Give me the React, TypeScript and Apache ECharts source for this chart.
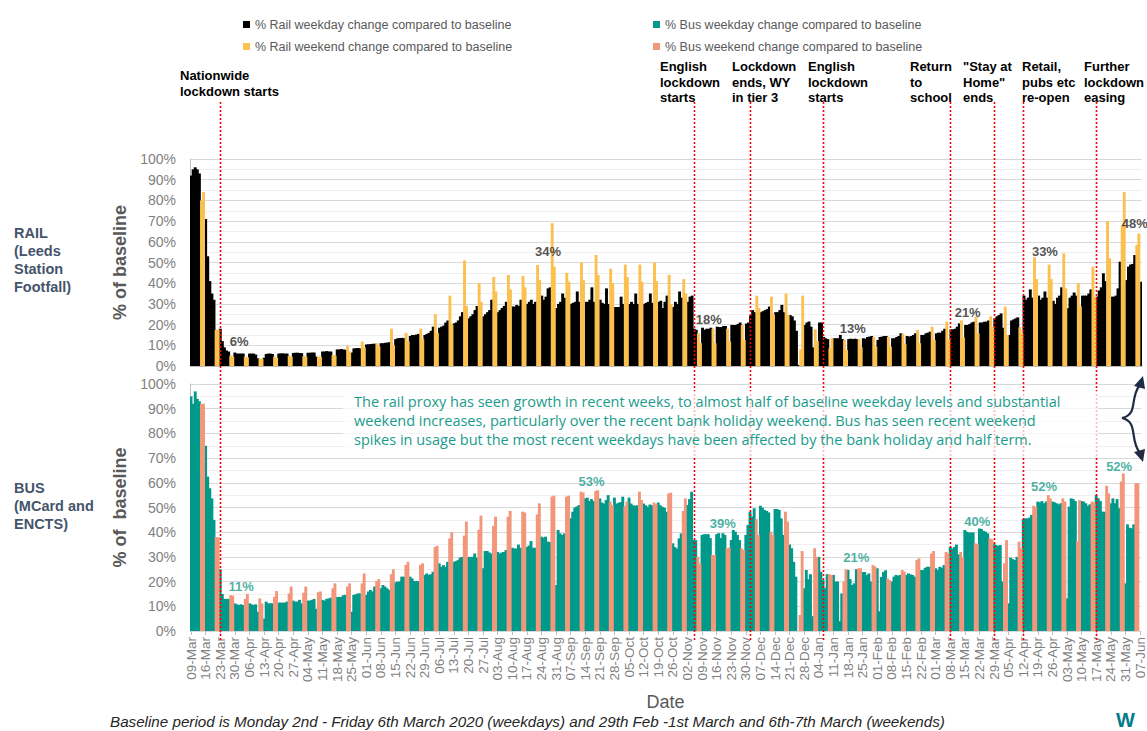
import React, { useEffect, useRef } from 'react';
import * as echarts from 'echarts';

// Monday tick labels (09-Mar-2020 .. 07-Jun-2021)
const weekLabels = ['09-Mar','16-Mar','23-Mar','30-Mar','06-Apr','13-Apr','20-Apr','27-Apr','04-May','11-May','18-May','25-May','01-Jun','08-Jun','15-Jun','22-Jun','29-Jun','06-Jul','13-Jul','20-Jul','27-Jul','03-Aug','10-Aug','17-Aug','24-Aug','31-Aug','07-Sep','14-Sep','21-Sep','28-Sep','05-Oct','12-Oct','19-Oct','26-Oct','02-Nov','09-Nov','16-Nov','23-Nov','30-Nov','07-Dec','14-Dec','21-Dec','28-Dec','04-Jan','11-Jan','18-Jan','25-Jan','01-Feb','08-Feb','15-Feb','22-Feb','01-Mar','08-Mar','15-Mar','22-Mar','29-Mar','05-Apr','12-Apr','19-Apr','26-Apr','03-May','10-May','17-May','24-May','31-May','07-Jun'];
const totalDays = 456;

// Rail: weekday values (Mon..Fri) per week, weekend values (Sat, Sun) per week
const railWeekday = [
  [92,95,96,95,93],[71,53,41,35,32],[18,12,9,7.5,7],[6.5,6,6,6,6],[6,6,6,5.5,3.7],
  [4,5.8,6,6,5.8],[6,6.1,6.1,6,6],[6.3,6.4,6.4,6.3,6.2],[6.4,6.4,6.5,6.5,4.5],[7,7,7.2,7,7],
  [8,8,8.2,8,7.8],[6.5,8.5,8.6,8.7,8.5],[10.4,10.5,10.6,10.7,10.8],[11,11,11.2,11.3,11.5],[13,13.4,13.5,13.6,13.5],
  [14.5,15,15,15.2,15.5],[15,15.5,16,17,19],[18.5,19,19.5,21,22],[20.6,21,22,24,26],[23,24,25,27,29],
  [24,25,26,27,32],[26,27,28,29,31],[28.7,28.7,29.5,29,32],[30,31,32,30,31],[34,32,33.5,37.5,38],
  [28,30,31,35,33],[30,30.5,31,36,31],[31,31,32,38,31],[32,30.5,30,37.5,30],[28.5,28.5,28.5,33.5,30],
  [30,31,30,35,30],[30,30.5,31,35,30.5],[31,31.5,28,31,34],[28.5,31,30,36,33],[31,33.5,34,18,17.5],
  [18.5,17.5,18,18,18.5],[19,18.8,18.8,19.3,19.3],[19.8,19.8,19.8,20.3,21],[20.5,21,24.5,27,26],[26,26.5,27,27.5,28.7],
  [26,26,27,29.5,26],[24.6,24,22,17,0.5],[19.8,21,21.5,19,9],[21,21,14,13.4,13],[13.4,13.4,13.4,15,13],
  [13,13.2,13,13.2,13],[13.4,13.2,14,14.2,14.5],[12.6,14,14.2,14.5,14.5],[13.4,13.4,14,14.5,15.8],[14.5,14.2,14.5,15,15.8],
  [15,15,15.8,16.1,16.6],[15.8,16.1,16.1,17,18],[17.7,17.7,18,19,20.6],[19.8,19.8,20.3,21,21.4],[21,21,21.4,21.4,22],
  [23,24,24.6,25.4,18.5],[15,22,22.5,23,23.5],[34,32,33,37,33],[34,32,33,36,33],[31.5,30,33,34,38],
  [27.9,33,34,35.5,34],[34,34,34,35,37],[33.5,36.5,38,44.8,41],[33.5,33.5,34,37.5,50.4],[41.5,48,49,49.3,53.6],
  [40.7]
];
const railWeekend = [
  [80,84],[17.4,17.6],[5,4.5],[4.5,4.2],[3.5,3.5],[4.5,4],[4.8,4.5],[4.8,4.6],[4.5,4.5],[5.3,5],
  [9.7,7],[11.8,9],[11,9.5],[18,10],[16,12],[18,13],[25,16],[34,20],[51,29],[40,31],
  [43,36],[44,37],[43.5,38],[48.8,41.5],[69,48],[45,40.7],[50,41.5],[53.6,44],[47,40],[49,43],
  [49,40.7],[50,41],[44,30],[42,35],[15.8,11],[18,11],[18,11.8],[19.8,12.6],[34,28],[33.5,25],
  [35,24.6],[8,34],[17.7,12],[8.5,13.4],[12.6,7.7],[13,9],[14,9.3],[14,9.3],[15.5,10.6],[17.4,11],
  [19,12.6],[21.4,12.9],[22,13.8],[23.8,15.8],[24,19],[28.7,15],[18.7,16],[52.5,42],[49,42],[54.4,37.5],
  [40,28.7],[48,33.5],[70,52],[68,84],[58.5,64]
];

// Bus
const busWeekday = [
  [95,92,97,94,93],[75,62.5,57.8,53.7,45],[25,15,13,13,13],[11.2,10.8,10.5,10.8,10.5],[11.2,10.8,10.5,10.8,7.8],
  [5,11.9,11.2,11.2,11.2],[11.5,11.5,11.5,11.5,11.9],[12.3,11.9,11.9,12.6,11.2],[12.3,12.3,12.6,13,9],[12.6,12.3,13,13.2,13.5],
  [13.8,13.8,13.8,14.5,14.6],[7.8,14.6,14.9,15.2,15.2],[14.6,16,16.6,16,18],[17.3,18.6,18,17.3,16.6],[19.7,20,20,22,22],
  [22,21.3,20.2,20.2,20.2],[22.7,23.3,22.7,23,24],[27.4,26,26.7,26,28],[28,28.3,28.7,29.7,30],[30,30,30,31.4,29.7],
  [25.4,32.4,32.4,31.8,31.4],[32,31.4,31.8,32,32.8],[33.7,33.4,33.4,35,33.7],[34,34.6,36.4,33.7,33.7],[38.2,37.8,38.2,36.2,36],
  [18.6,40.9,39.5,38.9,39.5],[45.6,48.3,50,50.4,51],[53.7,54,52.6,53.4,52.6],[53.7,52,51.6,53,55],[54,51.6,51.9,52.2,54.4],
  [54,51.6,50.9,50.7,50.9],[51.6,50.9,50.3,51.2,50.9],[52,50.9,50.3,49.9,48.3],[35.5,34,33.4,37.5,39.5],[51,53.4,56.4,36.8,36.8],
  [38.9,39.2,39.2,39.2,37.6],[39.2,39.6,37.6,39.6,38.9],[36.8,40.9,40.2,38.9,36.8],[38.9,42.9,48.3,46.3,49.7],[50.7,49.9,49,48.6,48],
  [49.4,49.4,49,45.6,38.9],[35,33.5,28,22,0],[17.3,24.7,21,23,6],[30,24,20.6,17.3,23],[22.7,20,20,4,15.2],
  [24.7,21,18.6,19.3,25],[23.9,23.9,22.7,23.3,20],[25.4,8,21.9,23.9,24.6],[20,22,22.7,22.4,22.7],[22.7,23.3,22.9,22.7,22],
  [24.7,24.7,25.6,26,26],[25.4,24.7,26,25.6,26.7],[34,33.4,34,35,31],[40.9,40.2,39.9,39.9,39.9],[41.5,41.3,40.5,40.2,39.5],
  [35.5,34.8,34.5,34.8,20],[11.2,29.7,29.1,28.7,30],[45.3,45.6,45.6,45.9,47],[52.4,52.1,52.6,51.7,52.4],[52.4,52.1,51.7,51.3,51.7],
  [13.2,50.3,53.7,53.4,52.6],[52.6,52.4,51.7,50.7,51.3],[55,53.7,52.6,48.3,48.3],[51.7,53.7,51.7,53.4,49.7],[19.3,43.2,41.8,41.6,43.2]
];
const busWeekend = [
  [92,92],[38,38],[14.5,14.3],[13,15],[13.2,11.2],[13.9,16.2],[15.2,18],[15.5,18],[15.7,16],[17.3,19.3],
  [18,19.3],[19.3,23.3],[20.2,21],[23,25],[26.7,28],[26.7,27.4],[34,34.5],[37.5,40],[38.6,44.3],[41,46.7],
  [42.6,46.3],[46.3,48.6],[48.3,48],[47.2,51.7],[54.4,54.8],[54.4,54.8],[56.4,56.1],[56.7,57],[52.4,51],[50.5,52.4],
  [56.4,53],[52,51.4],[55.7,56],[48.6,53.7],[30,27.4],[30.8,30.8],[33.5,33.8],[33.5,32.8],[45.3,38.9],[40.2,38.9],
  [48.3,44.3],[6.5,32.4],[33.5,30],[23,22.7],[20,25],[25.4,25.4],[26.7,26],[21.3,20.6],[24.7,24],[28.7,29.4],
  [31.4,32.4],[32,31.4],[32,30],[35.5,35.1],[37.5,37.2],[27.4,36.8],[36.2,33.5],[50.7,50.3],[55,53.7],[53.7,52.4],
  [36.4,53],[52.4,52.1],[58.8,55.7],[60.5,63.8],[59.8,59.8]
];

// Event lines: [week label, day offset from Monday]
const eventDays: [string, number][] = [['23-Mar',0],['02-Nov',3],['30-Nov',2],['04-Jan',2],['08-Mar',0],['29-Mar',0],['12-Apr',0],['17-May',0]];

// Value callouts: [week label, day offset, position value, text]
const railNotes: [string, number, number, string][] = [
  ['30-Mar',2,11.6,'6%'],['24-Aug',3,55.5,'34%'],['09-Nov',3,22.7,'18%'],['18-Jan',2,17.9,'13%'],
  ['15-Mar',1,26,'21%'],['19-Apr',3,55.5,'33%'],['31-May',4,68.6,'48%']
];
const busNotes: [string, number, number, string][] = [
  ['30-Mar',3,18.2,'11%'],['14-Sep',3,60.7,'53%'],['16-Nov',3,43.7,'39%'],['18-Jan',4,29.6,'21%'],
  ['15-Mar',6,44.5,'40%'],['19-Apr',3,58.7,'52%'],['24-May',4,66.4,'52%']
];

const eventTexts: [number, number, string][] = [
  [180, 68, 'Nationwide\nlockdown starts'],
  [660, 59, 'English\nlockdown\nstarts'],
  [732, 59, 'Lockdown\nends, WY\nin tier 3'],
  [808, 59, 'English\nlockdown\nstarts'],
  [910, 59, 'Return\nto\nschool'],
  [963, 59, '"Stay at\nHome"\nends'],
  [1022, 59, 'Retail,\npubs etc\nre-open'],
  [1084, 59, 'Further\nlockdown\neasing'],
];

const RAIL_WD = '% Rail weekday change compared to baseline';
const RAIL_WE = '% Rail weekend change compared to baseline';
const BUS_WD = '% Bus weekday change compared to baseline';
const BUS_WE = '% Bus weekend change compared to baseline';

const NARROW = "'Liberation Sans Narrow', 'Arial Narrow', 'Liberation Sans', sans-serif";
const SANS = "'Liberation Sans', Arial, sans-serif";

function dayIndex(week: string, off: number) {
  return weekLabels.indexOf(week) * 7 + off;
}

function buildCategories() {
  const out: string[] = [];
  for (let i = 0; i < totalDays; i++) {
    const w = Math.floor(i / 7);
    const d = i % 7;
    out.push(d === 0 ? weekLabels[w] : weekLabels[w] + '·' + d);
  }
  return out;
}

function buildDaily(wd: number[][], we: number[][]) {
  const a: (number | null)[] = [];
  const b: (number | null)[] = [];
  for (let i = 0; i < totalDays; i++) {
    const w = Math.floor(i / 7);
    const d = i % 7;
    if (d < 5) {
      const v = wd[w] && wd[w][d] !== undefined ? wd[w][d] : null;
      a.push(v);
      b.push(null);
    } else {
      const v = we[w] && we[w][d - 5] !== undefined ? we[w][d - 5] : null;
      a.push(null);
      b.push(v);
    }
  }
  return [a, b];
}

function yAxis(gridIndex: number, name: string) {
  return {
    type: 'value', gridIndex, min: 0, max: 100, interval: 10,
    axisLabel: { formatter: '{value}%', color: '#7F7F7F', fontSize: 14, fontFamily: SANS, margin: 14 },
    axisLine: { show: true, lineStyle: { color: '#BFBFBF' } },
    axisTick: { show: false },
    splitLine: { lineStyle: { color: '#D9D9D9' } },
    minorTick: { show: false, splitNumber: 2 },
    minorSplitLine: { show: true, lineStyle: { color: '#EFEFEF' } },
    name, nameLocation: 'middle', nameGap: 60, nameRotate: 90,
    nameTextStyle: { color: '#595959', fontSize: 18, fontWeight: 'bold', fontFamily: SANS },
  };
}

function noteSeries(notes: [string, number, number, string][], axis: number, color: string) {
  return {
    type: 'scatter', xAxisIndex: axis, yAxisIndex: axis, symbolSize: 1, silent: true,
    itemStyle: { color: 'rgba(0,0,0,0)' },
    data: notes.map(([w, o, v, t]) => ({
      value: [dayIndex(w, o), v],
      label: { show: true, position: 'inside', formatter: t, color, fontWeight: 'bold', fontSize: 13, fontFamily: SANS },
    })),
    z: 5,
  };
}

function barSeries(name: string, axis: number, data: (number | null)[], color: string) {
  return {
    name, type: 'bar', xAxisIndex: axis, yAxisIndex: axis, data,
    itemStyle: { color },
    barWidth: 2.9, barGap: '-100%',
  };
}

export default function App() {
  const ref = useRef<HTMLDivElement>(null);
  useEffect(() => {
    if (!ref.current) return;
    const chart = echarts.init(ref.current, null, { renderer: 'svg' });
    const cats = buildCategories();
    const [railWd, railWe] = buildDaily(railWeekday, railWeekend);
    const [busWd, busWe] = buildDaily(busWeekday, busWeekend);
    const tickFn = (i: number) => i % 7 === 0;
    const legendBase = {
      icon: 'rect', itemWidth: 7, itemHeight: 7, selectedMode: false,
      textStyle: { color: '#595959', fontSize: 12.5, fontFamily: NARROW },
    };
    chart.setOption({
      animation: false,
      backgroundColor: '#FFFFFF',
      legend: [
        { ...legendBase, data: [RAIL_WD], left: 238, top: 13 },
        { ...legendBase, data: [RAIL_WE], left: 238, top: 35 },
        { ...legendBase, data: [BUS_WD], left: 648, top: 13 },
        { ...legendBase, data: [BUS_WE], left: 648, top: 35 },
      ],
      grid: [
        { left: 190, right: 5, top: 159, height: 207 },
        { left: 190, right: 5, top: 384, height: 247 },
      ],
      xAxis: [
        {
          type: 'category', gridIndex: 0, data: cats,
          axisLine: { lineStyle: { color: '#BFBFBF' } },
          axisTick: { show: false }, axisLabel: { show: false },
        },
        {
          type: 'category', gridIndex: 1, data: cats,
          axisLine: { lineStyle: { color: '#D9D9D9' } },
          axisTick: { show: true, interval: tickFn, alignWithLabel: true, length: 4, lineStyle: { color: '#BFBFBF' } },
          axisLabel: {
            interval: tickFn, rotate: 90, color: '#7F7F7F', fontSize: 13.5, margin: 6, fontFamily: SANS,
            formatter: (v: string) => v.split('·')[0],
          },
          name: 'Date', nameLocation: 'middle', nameGap: 62,
          nameTextStyle: { color: '#595959', fontSize: 18, fontFamily: SANS },
        },
      ],
      yAxis: [yAxis(0, '% of baseline'), yAxis(1, '% of  baseline')],
      series: [
        barSeries(RAIL_WD, 0, railWd, '#000000'),
        barSeries(RAIL_WE, 0, railWe, '#FBC04F'),
        barSeries(BUS_WD, 1, busWd, '#00998A'),
        barSeries(BUS_WE, 1, busWe, '#F2977B'),
        noteSeries(railNotes, 0, '#262626'),
        noteSeries(busNotes, 1, '#1A9C8C'),
      ],
    });

    const redLines = eventDays.map(([w, o]) => {
      const x = Math.round(chart.convertToPixel({ xAxisIndex: 1 }, dayIndex(w, o)) as number) + 0.5;
      return {
        type: 'line', z: 100,
        shape: { x1: x, y1: 102, x2: x, y2: 640 },
        style: { stroke: '#FF0000', lineWidth: 1.6, lineDash: [2, 2] },
      };
    });

    const graphic: any[] = [
      ...redLines,
      {
        type: 'rect', z: 101, shape: { x: 343, y: 391, width: 755, height: 65 },
        style: { fill: 'rgba(255,255,255,0.72)' },
      },
      {
        type: 'text', z: 102, x: 354, y: 392,
        style: {
          text: 'The rail proxy has seen growth in recent weeks, to almost half of baseline weekday levels and substantial\nweekend increases, particularly over the recent bank holiday weekend. Bus has seen recent weekend\nspikes in usage but the most recent weekdays have been affected by the bank holiday and half term.',
          fill: '#1A9C8C', fontSize: 14.5, fontFamily: "'Open Sans', 'Noto Sans', sans-serif", lineHeight: 19,
          verticalAlign: 'top', align: 'left',
        },
      },
      // curly double arrow
      {
        type: 'bezierCurve', z: 103,
        shape: { x1: 1140, y1: 385, cpx1: 1129, cpy1: 398, cpx2: 1139, cpy2: 414, x2: 1122, y2: 418 },
        style: { stroke: '#1F2A44', lineWidth: 2.2, fill: 'none' },
      },
      {
        type: 'bezierCurve', z: 103,
        shape: { x1: 1122, y1: 418, cpx1: 1139, cpy1: 422, cpx2: 1129, cpy2: 440, x2: 1140, y2: 453 },
        style: { stroke: '#1F2A44', lineWidth: 2.2, fill: 'none' },
      },
      {
        type: 'polygon', z: 103,
        shape: { points: [[1143, 376], [1134, 386], [1145, 389]] },
        style: { fill: '#1F2A44' },
      },
      {
        type: 'polygon', z: 103,
        shape: { points: [[1143, 462], [1134, 452], [1145, 449]] },
        style: { fill: '#1F2A44' },
      },
      // side labels
      {
        type: 'text', x: 14, y: 224,
        style: { text: 'RAIL\n(Leeds\nStation\nFootfall)', fill: '#44546A', fontSize: 14.5, fontWeight: 'bold', fontFamily: SANS, lineHeight: 18 },
      },
      {
        type: 'text', x: 14, y: 479,
        style: { text: 'BUS\n(MCard and\nENCTS)', fill: '#44546A', fontSize: 14.5, fontWeight: 'bold', fontFamily: SANS, lineHeight: 18 },
      },
      // footer
      {
        type: 'text', x: 110, y: 721,
        style: {
          text: 'Baseline period is Monday 2nd - Friday 6th March 2020 (weekdays) and 29th Feb -1st March and 6th-7th March (weekends)',
          fill: '#262626', fontSize: 15.2, fontStyle: 'italic', fontFamily: SANS, verticalAlign: 'middle',
        },
      },
      {
        type: 'text', x: 1116, y: 720,
        style: { text: 'W', fill: '#007C8A', fontSize: 20, fontWeight: 'bold', fontFamily: SANS, verticalAlign: 'middle' },
      },
      ...eventTexts.map(([x, y, t]) => ({
        type: 'text', x, y, z: 104,
        style: { text: t, fill: '#000000', fontSize: 13, fontWeight: 'bold', fontFamily: NARROW, lineHeight: 15.5 },
      })),
    ];
    chart.setOption({ graphic });
    return () => chart.dispose();
  }, []);
  return <div ref={ref} style={{ position: 'fixed', left: 0, top: 0, width: 1147, height: 731, background: '#fff' }} />;
}
